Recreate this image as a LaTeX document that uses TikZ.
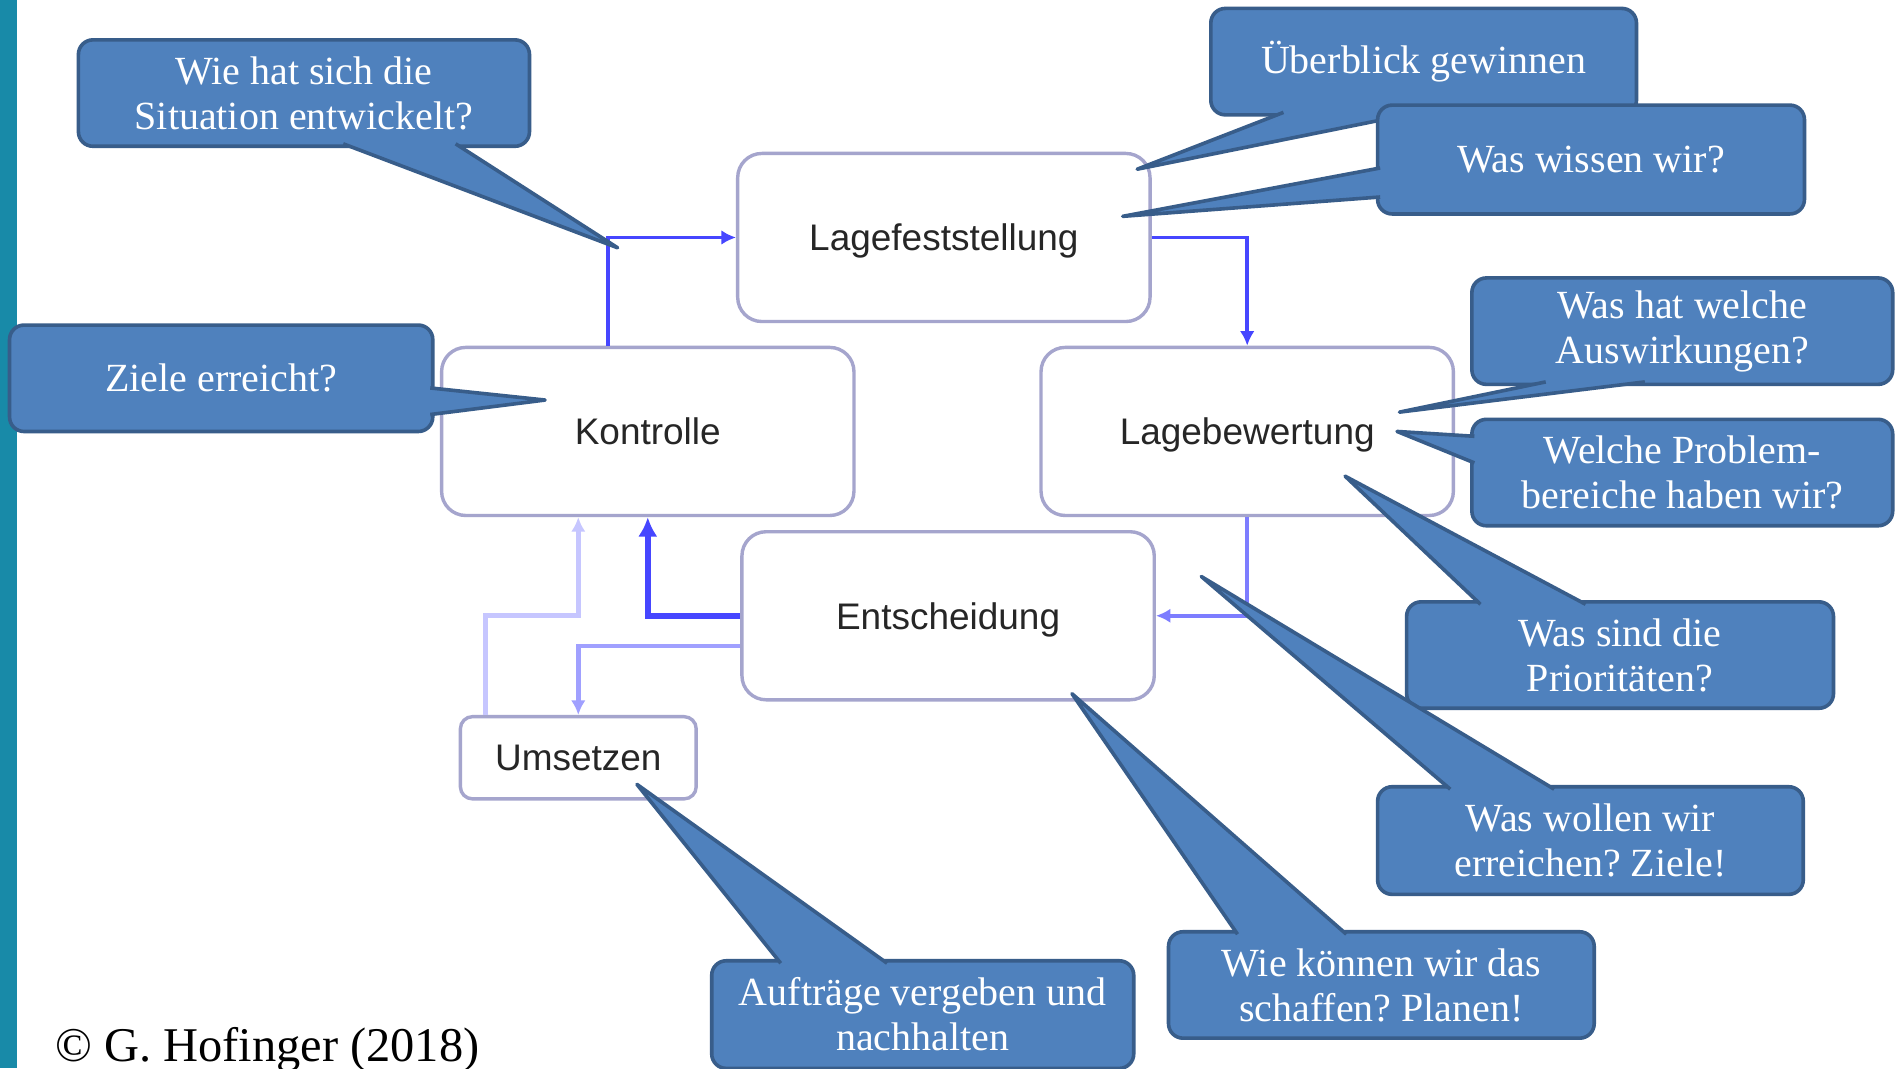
\documentclass[tikz,border=0pt]{standalone}
\usepackage{fontspec}
\usepackage{tikz}
\usetikzlibrary{arrows.meta}
\newfontfamily\callfont{Liberation Serif}
\newfontfamily\boxfont{Liberation Sans}
\frenchspacing
\definecolor{callfill}{RGB}{79,129,189}
\definecolor{calledge}{RGB}{56,93,138}
\definecolor{boxedge}{RGB}{165,165,205}
\definecolor{flowblue}{RGB}{70,70,255}
\definecolor{flowmid}{RGB}{125,125,255}
\definecolor{flowpale}{RGB}{160,160,255}
\definecolor{flowfaint}{RGB}{198,198,255}
\definecolor{sidebar}{RGB}{24,138,168}

\begin{document}
\begin{tikzpicture}[x=0.01cm,y=-0.01cm,
  phase/.style={rectangle,rounded corners=2mm,draw=boxedge,line width=0.8pt,fill=white,text=black!85,
    font=\boxfont\fontsize{8.7}{10}\selectfont,minimum width=3.41cm,minimum height=1.39cm,inner sep=0pt,text depth=0pt},
  flow/.style={draw=flowblue,line width=0.85pt,-{Latex[length=1.2mm,width=1.2mm]}},
  callout/.style={rectangle,rounded corners=1.2mm,fill=callfill,draw=calledge,line width=0.85pt,text=white,
    font=\callfont\fontsize{9.4}{10.6}\selectfont,align=center,inner sep=0pt},
  pointer/.style={fill=callfill,draw=calledge,line width=0.85pt,line join=round}]
\useasboundingbox (0,0) rectangle (1568,884);
\clip (0,0) rectangle (1568,884);
\fill[white] (0,0) rectangle (1568,884);
\fill[sidebar] (0,0) rectangle (14,884);

\node[phase] (lfs) at (781,196.5) {Lagefeststellung};
\node[phase] (kon) at (536,357) {Kontrolle};
\node[phase] (lbw) at (1032,357) {Lagebewertung};
\node[phase] (ent) at (784.5,509.5) {Entscheidung};
\node[phase,rounded corners=1mm,minimum width=1.95cm,minimum height=0.68cm] (ums) at (478.5,627) {Umsetzen};

\draw[flow] ([xshift=-3.3mm]kon.north) |- (lfs.west);
\draw[flow] (lfs.east) -| (lbw.north);
\draw[flow,draw=flowmid] (lbw.south) |- (ent.east);
\draw[flow,line width=1.4pt,-{Latex[length=1.6mm,width=1.6mm]}] (ent.west) -| (kon.south);
\draw[flow,draw=flowpale,line width=1.1pt] ([yshift=-2.5mm]ent.west) -| (ums.north);
\draw[flow,draw=flowfaint,line width=1.1pt] ([xshift=-7.7mm]ums.north) |- (ums.north |- ent.west) -- (ums.north |- kon.south);

\node[callout,minimum width=3.73cm,minimum height=0.88cm] (q1) at (251.5,77) {Wie hat sich die\\Situation entwickelt?};
\filldraw[pointer] (284,119) -- (511,205) -- (377,119);
\node[callout,minimum width=3.5cm,minimum height=0.88cm] (q2) at (183,313) {Ziele erreicht?};
\filldraw[pointer] (356,321) -- (451,331) -- (356,343);
\node[callout,minimum width=3.52cm,minimum height=0.88cm] (q3) at (1178,51) {Überblick gewinnen};
\filldraw[pointer] (1062,93) -- (941,140) -- (1174,93);
\node[callout,minimum width=3.53cm,minimum height=0.9cm] (q4) at (1316.5,132) {Was wissen wir?};
\filldraw[pointer] (1142,139) -- (929,179) -- (1142,163);
\node[callout,minimum width=3.48cm,minimum height=0.88cm] (q5) at (1392,274) {Was hat welche\\Auswirkungen?};
\filldraw[pointer] (1279,316) -- (1158,341) -- (1361,316);
\node[callout,minimum width=3.48cm,minimum height=0.88cm] (q6) at (1392,391) {Welche Problem-\\bereiche haben wir?};
\filldraw[pointer] (1220,361) -- (1156,357) -- (1220,383);
\node[callout,minimum width=3.53cm,minimum height=0.88cm] (q7) at (1340.5,542) {Was sind die\\Prioritäten?};
\filldraw[pointer] (1225,500) -- (1113,394) -- (1312,500);
\node[callout,minimum width=3.52cm,minimum height=0.89cm] (q8) at (1316,695.5) {Was wollen wir\\erreichen? Ziele!};
\filldraw[pointer] (1200,653) -- (994,477) -- (1286,653);
\node[callout,minimum width=3.52cm,minimum height=0.88cm] (q9) at (1143,815) {Wie können wir das\\schaffen? Planen!};
\filldraw[pointer] (1024,773) -- (887,574) -- (1114,773);
\node[callout,minimum width=3.49cm,minimum height=0.89cm] (q10) at (763.5,839.5) {Aufträge vergeben und\\nachhalten};
\filldraw[pointer] (646,797) -- (527,649) -- (734,797);

\node[anchor=base west,inner sep=0pt,font=\callfont\fontsize{11.4}{13}\selectfont] (copy) at (45,878) {© G. Hofinger (2018)};
\end{tikzpicture}
\end{document}
